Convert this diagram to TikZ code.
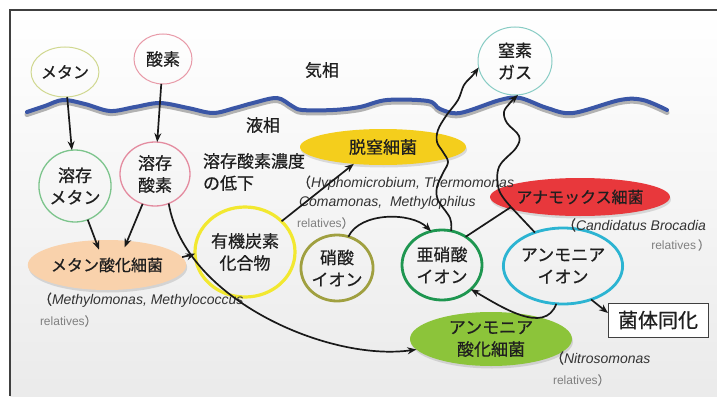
\documentclass[tikz,border=0pt]{standalone}
\usepackage{fontspec}
\setmainfont{Noto Sans CJK JP}[FakeBold=0.6]
\newfontfamily\lat{Liberation Sans}
\usetikzlibrary{shapes.geometric,arrows.meta,shadows}
\definecolor{framec}{HTML}{404040}
\definecolor{wavec}{HTML}{3A56A6}
\definecolor{metanc}{HTML}{D0D890}
\definecolor{sansoc}{HTML}{E89AA8}
\definecolor{chissoc}{HTML}{88CCC4}
\definecolor{ymetanc}{HTML}{7CC48C}
\definecolor{ysansoc}{HTML}{E48CA0}
\definecolor{mobc}{HTML}{F9D2AC}
\definecolor{orgc}{HTML}{F2E830}
\definecolor{denitc}{HTML}{F4CE1C}
\definecolor{nitratec}{HTML}{A0A040}
\definecolor{nitritec}{HTML}{1E9650}
\definecolor{ammc}{HTML}{2CB4D2}
\definecolor{aobc}{HTML}{8CC43A}
\definecolor{anamc}{HTML}{E8383C}
\begin{document}
\begin{tikzpicture}[x=1pt,y=-1pt,
  every node/.style={inner sep=0pt, outer sep=0pt, text=black!88, align=center},
  jp/.style={font=\fontsize{17}{22}\selectfont},
  jps/.style={font=\fontsize{16}{22}\selectfont},
  thinc/.style={ellipse, draw, line width=1pt},
  thickc/.style={ellipse, draw, line width=2.8pt},
  bact/.style={ellipse, drop shadow={shadow xshift=1pt, shadow yshift=-2.5pt, opacity=0.25}},
  sp/.style={anchor=west, align=left, font=\fontsize{14}{17}\selectfont, text=black!80},
  rel/.style={anchor=west, align=left, font=\fontsize{12}{14}\selectfont, text=black!50},
  arr/.style={-{Stealth[length=9pt,width=7pt]}, line width=1.7pt, draw=black!90},
  conn/.style={line width=1.7pt, draw=black!90},
]
\useasboundingbox (0,0) rectangle (717,396);
\fill[white] (0,0) rectangle (717,396);
\shade[top color=white, bottom color=black!8] (10,10) rectangle (717,396);
\draw[framec, line width=1.5pt] (717,10) -- (10,10) -- (10,396);

% water surface
\foreach \dy/\col/\w in {2.5/black!30/5pt, 0/wavec/4pt}{
  \draw[\col, line width=\w, line cap=round, yshift=-\dy pt] plot[smooth, tension=0.55] coordinates {
    (27,112) (45,106) (63,100) (85,104) (110,111) (135,107) (160,103) (188,108)
    (213,113) (235,108) (253,103) (277,98) (292,106) (302,110) (333,110) (360,107)
    (387,100) (428,101) (440,109) (460,113) (500,100) (520,98) (547,108) (573,113)
    (620,100) (643,100) (667,110)};
}

\node[jp] at (322,70) {気相};
\node[jp] at (263,125) {液相};
\node[jp, anchor=west, align=left] at (203,172) {溶存酸素濃度\\の低下};

% gases
\node[thinc, draw=metanc, minimum width=56pt, minimum height=50pt, jps] (metan) at (65,72) {メタン};
\node[thinc, draw=sansoc, minimum width=58pt, minimum height=50pt, jp] (sanso) at (163,59) {酸素};
\node[thinc, draw=chissoc, minimum width=74pt, minimum height=68pt, jp] (chisso) at (515,61) {窒素\\ガス};
\node[thinc, draw=ymetanc, line width=1.3pt, minimum width=72pt, minimum height=72pt, jp] (ymetan) at (75,186) {溶存\\メタン};
\node[thinc, draw=ysansoc, line width=1.3pt, minimum width=70pt, minimum height=64pt, jp] (ysanso) at (155,174) {溶存\\酸素};

% bacteria
\node[bact, fill=mobc, minimum width=136pt, minimum height=50pt, jps] (mob) at (107,265) {メタン酸化細菌};
\node[bact, fill=denitc, minimum width=166pt, minimum height=36pt, jp] (denit) at (383,147) {脱窒細菌};
\node[bact, fill=aobc, minimum width=162pt, minimum height=54pt, jp] (aob) at (491,339) {アンモニア\\酸化細菌};
\node[bact, fill=anamc, minimum width=164pt, minimum height=38pt, jps] (anam) at (580,197) {アナモックス細菌};

% compounds / ions
\node[thickc, draw=orgc, line width=3.2pt, minimum width=100pt, minimum height=90pt, jp] (org) at (245,252) {有機炭素\\化合物};
\node[thickc, draw=nitratec, minimum width=70pt, minimum height=66pt, jp] (nitrate) at (337,268) {硝酸\\イオン};
\node[thickc, draw=nitritec, minimum width=80pt, minimum height=70pt, jp] (nitrite) at (442,265) {亜硝酸\\イオン};
\node[thickc, draw=ammc, minimum width=110pt, minimum height=76pt, jp] (amm) at (563,266) {アンモニア\\イオン};
\node[draw=black!75, line width=1pt, fill=white, minimum width=100pt, minimum height=34pt, font=\fontsize{20}{22}\selectfont] (kintai) at (658,320) {菌体同化};

% species names
\node[sp] (sp1) at (297,183) {（{\lat\itshape Hyphomicrobium, Thermomonas}};
\node[sp] (sp2) at (299,203) {{\lat\itshape Comamonas,\ \ Methylophilus}};
\node[rel] (sp3) at (297,223) {{\lat relatives}）};
\node[sp] (sp4) at (38,300) {（{\lat\itshape Methylomonas, Methylococcus}};
\node[rel] (sp5) at (40,321) {{\lat relatives}）};
\node[sp] (sp6) at (562,225) {（{\lat\itshape Candidatus Brocadia}};
\node[rel, anchor=east] (sp7) at (710,245) {{\lat relatives}\,）};
\node[sp] (sp8) at (550,358) {（{\lat\itshape Nitrosomonas}};
\node[rel] (sp9) at (553,380) {{\lat relatives}）};

% connectors
\draw[arr] (metan) -- (ymetan);
\draw[arr] (sanso) -- (ysanso);
\draw[arr, shorten >=-10pt] (ymetan) -- (mob.115);
\draw[arr, shorten >=-7pt] (ysanso) -- (mob.50);
\draw[arr] (mob.6) to[out=15, in=200] (org.182);
\draw[arr] (org.40) -- (denit.210);
\draw[arr] (nitrate.70) to[out=65, in=135, looseness=0.85] (nitrite.108);
\draw[arr] (ysanso.-65) .. controls (185,300) and (330,362) .. (aob.188);
\draw[arr] (amm.260) to[out=-110, in=-30] (nitrite.-40);
\draw[arr] (amm.-50) -- (kintai.172);

\coordinate (J) at (511,207);
\draw[conn] (nitrite.50) -- (J);
\draw[conn] (amm.130) -- (J);
\draw[arr] plot[smooth, tension=0.6] coordinates {(J) (499,190) (499,167) (516,148) (519,136) (507,123) (504,112) (510,103) (chisso.-85)};
\draw[arr] plot[smooth, tension=0.6] coordinates {(nitrite.75) (450,218) (438,200) (437,187) (443,173) (448,162) (443,152) (437,142) (438,130) (446,116) (458,100) (464,85) (473,75) (chisso.190)};
\end{tikzpicture}
\end{document}
